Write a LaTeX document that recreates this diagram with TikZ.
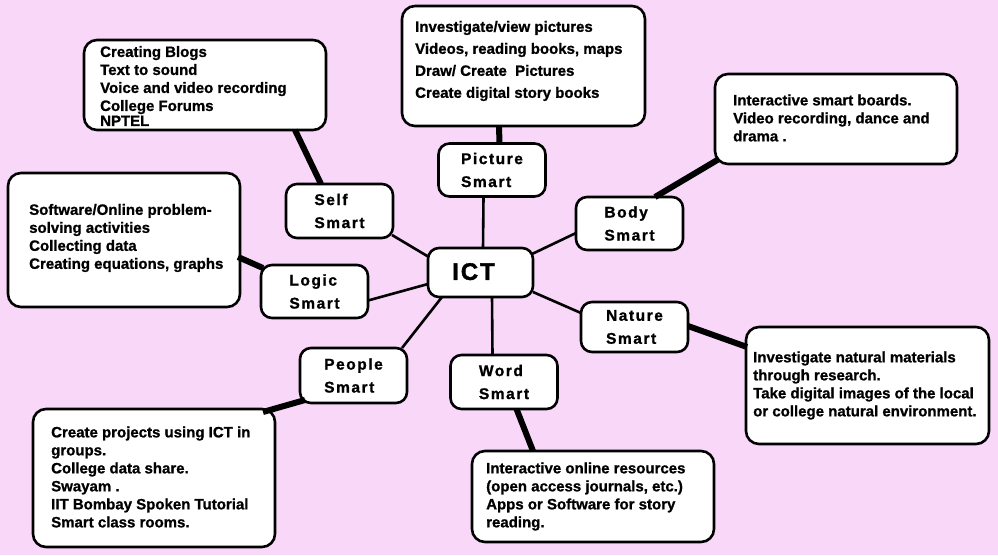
\documentclass[tikz,border=0pt]{standalone}
\usepackage{fontspec}
\setmainfont{Liberation Sans}[BoldFeatures={FakeBold=1}]
\newfontfamily\spacedfont{Liberation Sans}[LetterSpace=10,BoldFeatures={FakeBold=1.2}]
\newfontfamily\ictfont{Liberation Sans}[LetterSpace=8,BoldFeatures={FakeBold=1.5}]
\usetikzlibrary{calc}
\definecolor{bgpink}{RGB}{248,215,248}
\begin{document}
\begin{tikzpicture}[x=1pt,y=-1pt,
  box/.style={draw, line width=2.6pt, fill=white, outer sep=0pt, inner sep=0pt},
  detailbox/.style={box, rounded corners=13pt},
  smartbox/.style={box, rounded corners=11pt, minimum width=107pt, minimum height=53pt, align=left,
    font=\spacedfont\bfseries\fontsize{15.5}{23}\selectfont},
  detailtext/.style={anchor=west, inner sep=0pt, align=left, font=\bfseries\fontsize{15}{18}\selectfont},
  thinlink/.style={line width=2.6pt},
  thicklink/.style={line width=6pt}]
\useasboundingbox (0,0) rectangle (998,555);
\fill[bgpink] (0,0) rectangle (998,555);

% detail boxes
\node[detailbox, minimum width=242pt, minimum height=90pt]  (selfd)   at (205,85) {};
\node[detailbox, minimum width=243pt, minimum height=120pt] (picd)    at (523.5,66) {};
\node[detailbox, minimum width=242pt, minimum height=90pt]  (bodyd)   at (836,119) {};
\node[detailbox, minimum width=232pt, minimum height=134pt] (logicd)  at (124,240) {};
\node[detailbox, minimum width=243pt, minimum height=117pt] (natured) at (867.5,385.5) {};
\node[detailbox, minimum width=242pt, minimum height=138pt] (peopled) at (154,478) {};
\node[detailbox, minimum width=242pt, minimum height=91pt]  (wordd)   at (593,496.5) {};

% smart nodes
\node[smartbox, minimum height=54pt] (self)   at (339.5,211) {Self\\Smart};
\node[smartbox, minimum height=53pt] (pic)    at (492,170) {Picture\\Smart};
\node[smartbox] (body)   at (629.5,223.5) {Body\\Smart};
\node[smartbox] (logic)  at (314.5,291.5) {Logic\\Smart};
\node[smartbox, minimum height=50pt] (nature) at (634.5,327) {Nature\\Smart};
\node[smartbox, minimum height=55pt] (people) at (353.5,375.5) {People\\Smart};
\node[smartbox, minimum height=54pt] (word)   at (504,382) {Word\\Smart};
\node[box, rounded corners=11pt, minimum width=105pt, minimum height=49pt,
  font=\ictfont\bfseries\fontsize{24}{24}\selectfont] (ict) at (480.5,272.5) {\raisebox{2pt}{\hspace*{-14pt}ICT}};

% thin connectors from ICT
\draw[thinlink] ($(ict.west)+(0,-16)$) -- ($(self.south east)+(-1,-3)$);
\draw[thinlink] ($(ict.north west)+(55,0)$) -- ($(pic.south west)+(45,0)$);
\draw[thinlink] ($(ict.north east)+(-1,6)$) -- ($(body.west)+(0,9.5)$);
\draw[thinlink] ($(ict.west)+(0,11.5)$) -- ($(logic.east)+(0,9)$);
\draw[thinlink] ($(ict.south west)+(14,0)$) -- ($(people.north east)+(-5,0)$);
\draw[thinlink] ($(ict.south west)+(64,0)$) -- ($(word.north west)+(42,0)$);
\draw[thinlink] ($(ict.east)+(0,19.5)$) -- ($(nature.west)+(0,-14)$);

% thick connectors to detail boxes
\draw[thicklink] ($(selfd.south west)+(211,0)$) -- ($(self.north west)+(35,0)$);
\draw[thicklink] ($(picd.south west)+(97,0)$) -- ($(pic.north west)+(61,0)$);
\draw[thicklink] ($(bodyd.south west)+(4,-5)$) -- ($(body.north west)+(79,0)$);
\draw[thicklink] ($(logicd.east)+(-2,17)$) -- ($(logic.north west)+(2,3)$);
\draw[thicklink] ($(people.south west)+(5,-3)$) -- ($(peopled.north east)+(-12,3)$);
\draw[thicklink] ($(word.south west)+(66,0)$) -- ($(wordd.north west)+(61,0)$);
\draw[thicklink] ($(nature.east)+(0,-1)$) -- ($(natured.north west)+(1,20)$);

% detail texts
\node[detailtext] (selft) at ($(selfd.west)+(16,1)$)
  {Creating Blogs\\Text to sound\\Voice and video recording\\College Forums\\[-3pt]NPTEL};
\node[detailtext, font=\bfseries\fontsize{15}{22}\selectfont] (pict) at ($(picd.west)+(13,-5)$)
  {Investigate/view pictures\\Videos, reading books, maps\\Draw/ Create\ \ Pictures\\Create digital story books};
\node[detailtext] (bodyt) at ($(bodyd.west)+(18,-1)$)
  {Interactive smart boards.\\Video recording, dance and\\drama .};
\node[detailtext] (logict) at ($(logicd.west)+(21,-2)$)
  {Software/Online problem-\\solving activities\\Collecting data\\Creating equations, graphs};
\node[detailtext] (naturet) at ($(natured.west)+(7,0)$)
  {Investigate natural materials\\through research.\\Take digital images of the local\\or college natural environment.};
\node[detailtext] (peoplet) at ($(peopled.west)+(18,-1)$)
  {Create projects using ICT in\\groups.\\College data share.\\Swayam .\\IIT Bombay Spoken Tutorial\\Smart class rooms.};
\node[detailtext] (wordt) at ($(wordd.west)+(14,0)$)
  {Interactive online resources\\(open access journals, etc.)\\Apps or Software for story\\reading.};
\end{tikzpicture}
\end{document}
